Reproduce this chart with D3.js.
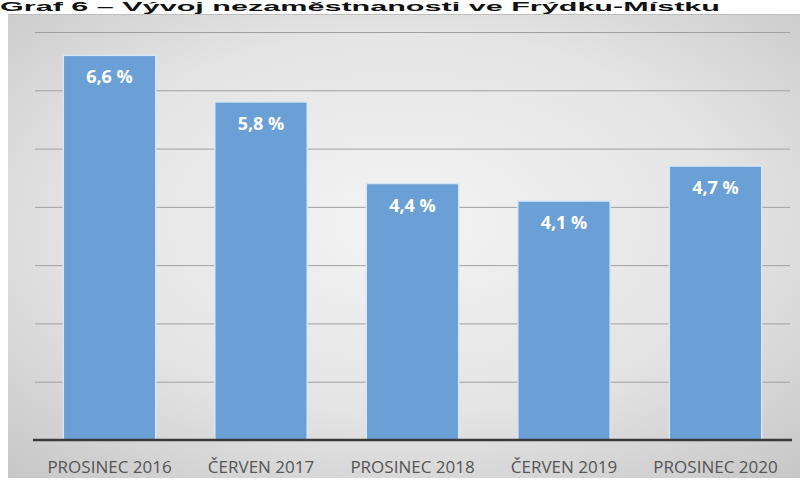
<!DOCTYPE html>
<html>
<head>
<meta charset="utf-8">
<script src="https://cdn.jsdelivr.net/npm/d3@7"></script>
<style>
  body { margin: 0; background: #fff; }
  svg { display: block; }
</style>
</head>
<body>
<div id="chart"></div>
<script>
const categories = ['PROSINEC 2016', 'ČERVEN 2017', 'PROSINEC 2018', 'ČERVEN 2019', 'PROSINEC 2020'];
const values = [6.6, 5.8, 4.4, 4.1, 4.7];
const valueLabels = ['6,6 %', '5,8 %', '4,4 %', '4,1 %', '4,7 %'];
const gridTicks = [1, 2, 3, 4, 5, 6, 7];
const title = 'Graf 6 – Vývoj nezaměstnanosti ve Frýdku-Místku';

const W = 811, H = 485;
const svg = d3.select('#chart').append('svg').attr('width', W).attr('height', H);

// background gradient like the office chart area
const defs = svg.append('defs');
const grad = defs.append('radialGradient').attr('id', 'bg')
  .attr('cx', '50%').attr('cy', '45%').attr('r', '75%');
grad.append('stop').attr('offset', '0%').attr('stop-color', '#f4f4f4');
grad.append('stop').attr('offset', '55%').attr('stop-color', '#e4e4e4');
grad.append('stop').attr('offset', '100%').attr('stop-color', '#c6c6c6');

svg.append('rect').attr('x', 8).attr('y', 14).attr('width', 792).attr('height', 464)
  .attr('fill', 'url(#bg)');
svg.append('line').attr('x1', 8).attr('x2', 800).attr('y1', 14.5).attr('y2', 14.5)
  .attr('stroke', '#bdbdbd');

// title (the scan only shows its lower part, keep it small so it fits)
svg.append('text').attr('x', 0).attr('y', 11)
  .attr('font-family', 'Liberation Sans, Arial, sans-serif')
  .attr('font-weight', 'bold').attr('font-size', 13).attr('fill', '#111')
  .attr('textLength', 720).attr('lengthAdjust', 'spacingAndGlyphs')
  .text(title);

const x = d3.scaleBand().domain(categories).range([33, 792]).paddingInner(0.39).paddingOuter(0.2);
const y = d3.scaleLinear().domain([0, 7]).range([440, 32]);

svg.append('g').selectAll('line').data(gridTicks).join('line')
  .attr('x1', 35).attr('x2', 790)
  .attr('y1', d => y(d) + 0.5).attr('y2', d => y(d) + 0.5)
  .attr('stroke', '#a0a0a0').attr('stroke-width', 1);

svg.append('g').selectAll('rect').data(values).join('rect')
  .attr('x', (d, i) => x(categories[i]))
  .attr('y', d => y(d))
  .attr('width', x.bandwidth())
  .attr('height', d => y(0) - y(d))
  .attr('fill', '#6aa0d5')
  .attr('stroke', '#d6e6f5').attr('stroke-width', 1.5);

svg.append('g').selectAll('text').data(values).join('text')
  .attr('x', (d, i) => x(categories[i]) + x.bandwidth() / 2)
  .attr('y', d => y(d) + 28)
  .attr('text-anchor', 'middle')
  .attr('font-family', 'Open Sans, sans-serif').attr('font-weight', 'bold')
  .attr('font-size', 18).attr('fill', '#fff')
  .text((d, i) => valueLabels[i]);

// x axis
const xAxis = svg.append('g').attr('transform', 'translate(0,440)')
  .call(d3.axisBottom(x).tickSize(0));
xAxis.select('.domain').attr('stroke', '#3a3a3a').attr('stroke-width', 2.5)
  .attr('d', 'M33,0H792');
xAxis.selectAll('text').attr('font-family', 'Open Sans, sans-serif')
  .attr('font-size', 17).attr('fill', '#555')
  .attr('y', 33).attr('dy', null);
</script>
</body>
</html>
